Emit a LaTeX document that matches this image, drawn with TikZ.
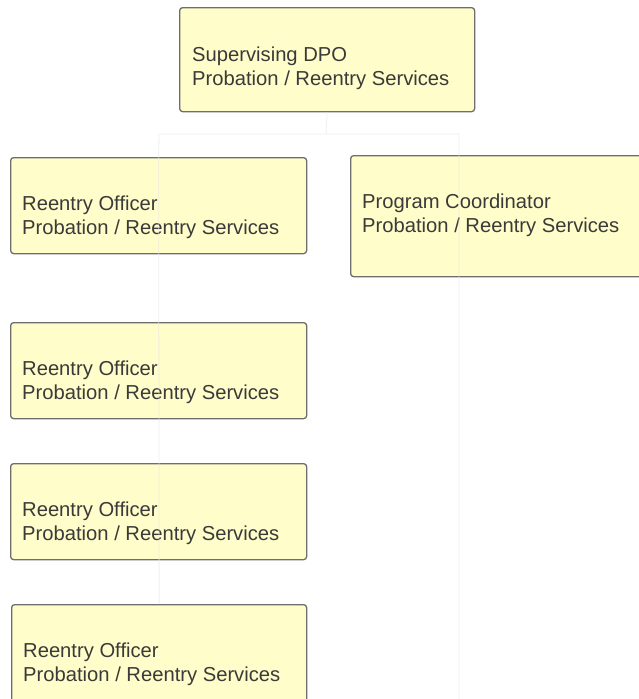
\documentclass[tikz,border=0pt]{standalone}
\usepackage{fontspec}
\setmainfont{Liberation Sans}
\definecolor{boxfill}{HTML}{FFFDC9}
\definecolor{boxline}{HTML}{6E6E6E}
\definecolor{txt}{HTML}{3A3A3A}
\definecolor{ghost}{HTML}{E8E8E8}
\begin{document}
\begin{tikzpicture}[x=1pt,y=-1pt,
  orgbox/.style={draw=boxline,fill=boxfill,line width=1.3pt,rounded corners=3pt,
    anchor=north west,inner sep=0pt,minimum height=#1},
  orgbox/.default=96pt,
  lbl/.style={anchor=base west,inner sep=0pt,text=txt,align=left,
    font=\fontsize{20.2}{23.5}\selectfont},
  ghostline/.style={draw=ghost,line width=0.8pt}]
\useasboundingbox (0,0) rectangle (639,699);
\clip (0,0) rectangle (639,699);
% boxes
\node[orgbox=104pt,minimum width=295pt] (top) at (179,7) {};
\node[orgbox=96pt,minimum width=296pt] (r1) at (10,157) {};
\node[orgbox=121pt,minimum width=300pt] (pc) at (350,155) {};
\node[orgbox=96pt,minimum width=296pt] (r2) at (10,322) {};
\node[orgbox=96pt,minimum width=296pt] (r3) at (10,463) {};
\node[orgbox=100pt,minimum width=295pt] (r4) at (11,604) {};
% texts (base anchor = baseline of the last line)
\node[lbl] (ttop) at ([shift={(13,78)}]top.north west) {Supervising DPO\\Probation / Reentry Services};
\node[lbl] (tr1) at ([shift={(12,77)}]r1.north west) {Reentry Officer\\Probation / Reentry Services};
\node[lbl] (tpc) at ([shift={(12,77)}]pc.north west) {Program Coordinator\\Probation / Reentry Services};
\node[lbl] (tr2) at ([shift={(12,77)}]r2.north west) {Reentry Officer\\Probation / Reentry Services};
\node[lbl] (tr3) at ([shift={(12,77)}]r3.north west) {Reentry Officer\\Probation / Reentry Services};
\node[lbl] (tr4) at ([shift={(12,77)}]r4.north west) {Reentry Officer\\Probation / Reentry Services};
% faint connectors
\coordinate (hub) at (326,134);
\coordinate (hl) at (159,134);
\coordinate (hr) at (459,134);
\coordinate (bot) at (459,699);
\draw[ghostline,opacity=0.7] (top.south) -- (hub) -- (hl) -- (r1.north) -- (r4.north)
  (hub) -- (hr) -- (bot);
\end{tikzpicture}
\end{document}
